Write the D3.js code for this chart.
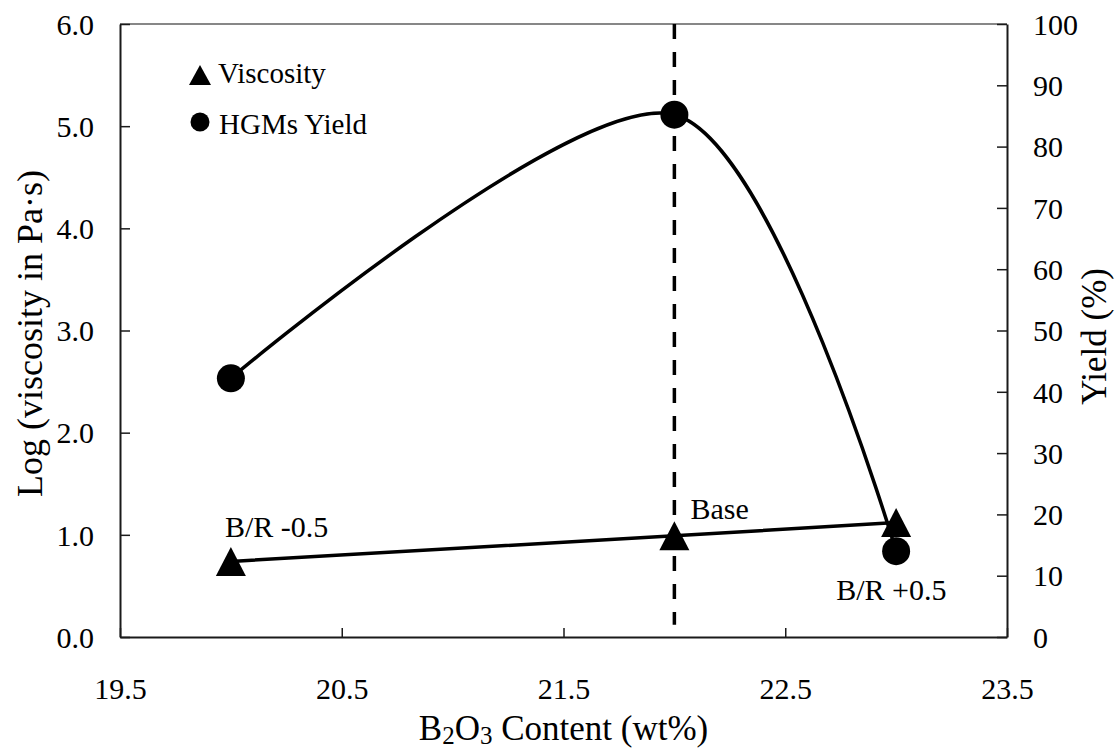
<!DOCTYPE html>
<html>
<head>
<meta charset="utf-8">
<script src="https://cdn.jsdelivr.net/npm/d3@7"></script>
<style>
  body { margin: 0; background: #fff; }
  svg, text, tspan { font-family: "Liberation Serif", "Times New Roman", serif; }
  text { fill: #000; }
</style>
</head>
<body>
<svg width="1116" height="751"></svg>
<script>
// data
var b2o3 = [20, 22, 23];
var viscosity = [0.74, 0.99, 1.12];      // log(Pa.s), left axis
var yieldPct = [42.2, 85.2, 14.0];       // %, right axis
var pointLabels = ["B/R -0.5", "Base", "B/R +0.5"];
var baseLineX = 22, baseLineSpan = [0.12, 6.0];
var xTicks = [19.5, 20.5, 21.5, 22.5, 23.5],
    yTicksLeft = [0, 1, 2, 3, 4, 5, 6],
    yTicksRight = [0, 10, 20, 30, 40, 50, 60, 70, 80, 90, 100];

var serif = '"Liberation Serif", "Times New Roman", serif';

var svg = d3.select("svg"),
    margin = {top: 24, right: 109, bottom: 114, left: 120},
    width = +svg.attr("width") - margin.left - margin.right,
    height = +svg.attr("height") - margin.top - margin.bottom;

var x = d3.scaleLinear().domain([19.5, 23.5]).range([0, width]),
    yL = d3.scaleLinear().domain([0, 6]).range([height, 0]),
    yR = d3.scaleLinear().domain([0, 100]).range([height, 0]);

var g = svg.append("g")
    .attr("transform", "translate(" + margin.left + "," + margin.top + ")");

// plot frame (top edge grey like excel)
g.append("line")
    .attr("x1", 0).attr("x2", width).attr("y1", 0).attr("y2", 0)
    .attr("stroke", "#878787").attr("stroke-width", 2);

var xAxis = d3.axisBottom(x).tickValues(xTicks).tickSizeInner(-9).tickSizeOuter(0).tickFormat(d3.format(".1f")),
    yAxisL = d3.axisLeft(yL).tickValues(yTicksLeft).tickSizeInner(-10).tickSizeOuter(0).tickFormat(d3.format(".1f")),
    yAxisR = d3.axisRight(yR).tickValues(yTicksRight).tickSizeInner(-10).tickSizeOuter(0);

function styleAxis(sel) {
  sel.attr("font-family", serif);
  sel.select(".domain").attr("stroke", "#1a1a1a").attr("stroke-width", 2);
  sel.selectAll(".tick line").attr("stroke", "#1a1a1a").attr("stroke-width", 1.5);
  sel.selectAll("text").style("font-family", serif).style("font-size", "30px").attr("fill", "#000");
}

g.append("g")
    .attr("transform", "translate(0," + height + ")")
    .call(xAxis)
    .call(styleAxis)
    .selectAll("text").attr("y", 41).attr("dy", "0.71em");

g.append("g")
    .call(yAxisL)
    .call(styleAxis)
    .selectAll("text").attr("x", -26).attr("dy", "0.34em");

g.append("g")
    .attr("transform", "translate(" + width + ",0)")
    .call(yAxisR)
    .call(styleAxis)
    .selectAll("text").attr("x", 26).attr("dy", "0.34em");

// dashed base line
g.append("line")
    .attr("x1", x(baseLineX)).attr("x2", x(baseLineX))
    .attr("y1", yL(baseLineSpan[1])).attr("y2", yL(baseLineSpan[0]))
    .attr("stroke", "#000").attr("stroke-width", 3.5)
    .attr("stroke-dasharray", "15,13");

var visc = b2o3.map(function(d, i) { return {x: d, y: viscosity[i]}; }),
    yld = b2o3.map(function(d, i) { return {x: d, y: yieldPct[i]}; });

g.append("path")
    .attr("fill", "none").attr("stroke", "#000").attr("stroke-width", 3.5)
    .attr("d", d3.line().x(function(d) { return x(d.x); }).y(function(d) { return yR(d.y); })
      .curve(d3.curveCardinal.tension(0.1))(yld));

g.append("path")
    .attr("fill", "none").attr("stroke", "#000").attr("stroke-width", 3.5)
    .attr("d", d3.line().x(function(d) { return x(d.x); }).y(function(d) { return yL(d.y); })(visc));

function tri(w, h) {
  return "M0," + (-h/2) + "L" + (w/2) + "," + (h/2) + "L" + (-w/2) + "," + (h/2) + "Z";
}

g.selectAll(".tri").data(visc).enter().append("path")
    .attr("class", "tri")
    .attr("transform", function(d) { return "translate(" + x(d.x) + "," + yL(d.y) + ")"; })
    .attr("d", tri(30, 29));

g.selectAll(".dot").data(yld).enter().append("circle")
    .attr("class", "dot")
    .attr("cx", function(d) { return x(d.x); })
    .attr("cy", function(d) { return yR(d.y); })
    .attr("r", 14);

// point labels
var labelPos = [[-6, -24], [16, -17], [-60, 77]];
g.selectAll(".plabel").data(visc).enter().append("text")
    .attr("class", "plabel")
    .attr("x", function(d, i) { return x(d.x) + labelPos[i][0]; })
    .attr("y", function(d, i) { return yL(d.y) + labelPos[i][1]; })
    .style("font-family", serif)
    .style("font-size", "30px")
    .text(function(d, i) { return pointLabels[i]; });

// legend
var legend = svg.append("g").style("font-family", serif);
legend.append("path").attr("transform", "translate(200,75)").attr("d", tri(22, 20));
legend.append("circle").attr("cx", 200).attr("cy", 122).attr("r", 9.5);
legend.append("text").attr("x", 218).attr("y", 83).style("font-size", "29px").text("Viscosity");
legend.append("text").attr("x", 219).attr("y", 134).style("font-size", "29px").text("HGMs Yield");

// axis titles
svg.append("text")
    .attr("transform", "translate(42," + (margin.top + height/2 + 3) + ")rotate(-90)")
    .attr("text-anchor", "middle")
    .style("font-family", serif)
    .style("font-size", "36px")
    .text("Log (viscosity in Pa\u00b7s)");

svg.append("text")
    .attr("transform", "translate(1106," + (margin.top + height/2 + 6) + ")rotate(-90)")
    .attr("text-anchor", "middle")
    .style("font-family", serif)
    .style("font-size", "35px")
    .text("Yield (%)");

var xt = svg.append("text")
    .attr("x", margin.left + width/2)
    .attr("y", 740)
    .attr("text-anchor", "middle")
    .style("font-family", serif)
    .style("font-size", "35px");
xt.append("tspan").text("B");
xt.append("tspan").attr("dy", 4).style("font-size", "25px").text("2");
xt.append("tspan").attr("dy", -4).text("O");
xt.append("tspan").attr("dy", 4).style("font-size", "25px").text("3");
xt.append("tspan").attr("dy", -4).text(" Content (wt%)");
</script>
</body>
</html>
